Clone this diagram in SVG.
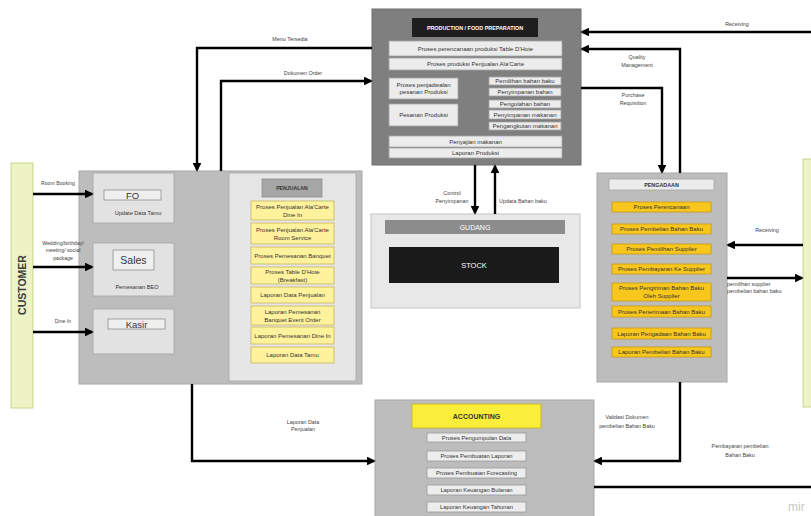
<svg xmlns="http://www.w3.org/2000/svg" width="811" height="516" viewBox="0 0 811 516">
<defs>
<marker id="ah" viewBox="0 0 10 10" refX="8" refY="5" markerWidth="3.6" markerHeight="3.6" orient="auto" markerUnits="strokeWidth"><path d="M0,0 L10,5 L0,10 z" fill="#000"/></marker>
<style>
text{font-family:"Liberation Sans",Arial,sans-serif;fill:#333;}
.t{font-size:6px;text-anchor:middle;}
.lb{font-size:5.4px;text-anchor:middle;fill:#444;}
.pbox{fill:#ececec;stroke:#a6a6a6;stroke-width:0.8;}
.ybox{fill:#fff29c;stroke:#c8b35a;stroke-width:0.8;}
.obox{fill:#f8c71e;stroke:#c89a10;stroke-width:0.8;}
.abox{fill:#ededed;stroke:#9a9a9a;stroke-width:0.8;}
.ln{fill:none;stroke:#000;stroke-width:2.4;}
.ar{fill:none;stroke:#000;stroke-width:2.4;marker-end:url(#ah);}
.cust{fill:#eef3c6;stroke:#c9d38e;stroke-width:1;}
</style>
</defs>
<rect width="811" height="516" fill="#fff"/>

<g id="customer">
<rect class="cust" x="11" y="163" width="22" height="245"/>
<text x="26" y="285" transform="rotate(-90 26 285)" style="font-size:10.5px;font-weight:bold;text-anchor:middle;fill:#3a3a3a">CUSTOMER</text>
</g>

<g id="supplier">
<rect class="cust" x="803" y="159" width="12" height="248"/>
</g>

<g id="frontoffice">
<rect x="79" y="171" width="283" height="213" fill="#bdbdbd" stroke="#a8a8a8" stroke-width="1"/>
<g id="fo">
<rect x="93" y="173" width="81" height="50" fill="#e2e2e2" stroke="#a6a6a6" stroke-width="0.8"/>
<rect x="104" y="190" width="57" height="10" fill="#efefef" stroke="#8f8f8f" stroke-width="0.8"/>
<text x="132.5" y="198.5" style="font-size:9.5px;text-anchor:middle;fill:#333">FO</text>
<text x="138" y="215" class="t" style="font-size:5.6px">Update Data Tamu</text>
</g>
<g id="sales">
<rect x="93" y="243" width="81" height="53" fill="#e2e2e2" stroke="#a6a6a6" stroke-width="0.8"/>
<rect x="113" y="250" width="41" height="20" fill="#efefef" stroke="#8f8f8f" stroke-width="0.8"/>
<text x="133.5" y="263.5" style="font-size:10.5px;text-anchor:middle;fill:#333">Sales</text>
<text x="137" y="289" class="t" style="font-size:5.6px">Pemesanan BEO</text>
</g>
<g id="kasir">
<rect x="93" y="309" width="81" height="45" fill="#e2e2e2" stroke="#a6a6a6" stroke-width="0.8"/>
<rect x="108" y="319" width="57" height="10" fill="#efefef" stroke="#8f8f8f" stroke-width="0.8"/>
<text x="136.5" y="327.5" style="font-size:9.5px;text-anchor:middle;fill:#333">Kasir</text>
</g>
<g id="penjualan">
<rect x="229" y="173" width="127" height="208" fill="#e6e6e6" stroke="#a8a8a8" stroke-width="0.8"/>
<rect x="262" y="179" width="60" height="18" fill="#a6a6a6" stroke="#8f8f8f" stroke-width="0.8"/>
<text x="292" y="190" class="t" style="font-size:5.2px;font-weight:bold">PENJUALAN</text>
<rect class="ybox" x="251" y="201" width="83" height="19"/>
<text x="292.5" y="209" class="t">Proses Penjualan Ala'Carte</text>
<text x="292.5" y="216.5" class="t">Dine In</text>
<rect class="ybox" x="251" y="223" width="83" height="21"/>
<text x="292.5" y="231.5" class="t">Proses Penjualan Ala'Carte</text>
<text x="292.5" y="239.5" class="t">Room Service</text>
<rect class="ybox" x="251" y="247" width="83" height="17"/>
<text x="292.5" y="257.5" class="t">Proses Pemesanan Banquet</text>
<rect class="ybox" x="251" y="267" width="83" height="17"/>
<text x="292.5" y="274" class="t">Proses Table D'Hote</text>
<text x="292.5" y="281.5" class="t">(Breakfast)</text>
<rect class="ybox" x="251" y="287" width="83" height="16"/>
<text x="292.5" y="297" class="t">Laporan Data Penjualan</text>
<rect class="ybox" x="251" y="306" width="83" height="19"/>
<text x="292.5" y="314" class="t">Laporan Pemesanan</text>
<text x="292.5" y="321.5" class="t">Banquet Event Order</text>
<rect class="ybox" x="251" y="327" width="83" height="17"/>
<text x="292.5" y="337.5" class="t">Laporan Pemesanan Dine In</text>
<rect class="ybox" x="251" y="347" width="83" height="16"/>
<text x="292.5" y="357" class="t">Laporan Data Tamu</text>
</g>
</g>

<g id="production">
<rect x="372" y="9" width="209" height="156" fill="#7f7f7f" stroke="#6f6f6f" stroke-width="1"/>
<rect x="412" y="18" width="126" height="19" fill="#1e1e1e"/>
<text x="475" y="29.5" class="t" style="font-size:5.4px;font-weight:bold;fill:#fff">PRODUCTION / FOOD PREPARATION</text>
<rect class="pbox" x="389" y="41" width="173" height="15"/>
<text x="475.5" y="50.5" class="t">Proses perencanaan produksi Table D'Hote</text>
<rect class="pbox" x="389" y="58" width="173" height="12"/>
<text x="475.5" y="66" class="t">Proses produksi Penjualan Ala'Carte</text>
<rect class="pbox" x="389" y="78" width="69" height="21"/>
<text x="423.5" y="86.5" class="t">Proses penjadwalan</text>
<text x="423.5" y="94" class="t">pesanan Produksi</text>
<rect class="pbox" x="389" y="104" width="69" height="22"/>
<text x="423.5" y="117" class="t">Pesanan Produksi</text>
<rect class="pbox" x="489" y="77" width="72" height="8"/>
<text x="525" y="83" class="t">Pemilihan bahan baku</text>
<rect class="pbox" x="489" y="88" width="72" height="8"/>
<text x="525" y="94" class="t">Penyimpanan bahan</text>
<rect class="pbox" x="489" y="100" width="72" height="8"/>
<text x="525" y="106" class="t">Pengolahan bahan</text>
<rect class="pbox" x="489" y="110" width="72" height="9"/>
<text x="525" y="116.5" class="t">Penyimpanan makanan</text>
<rect class="pbox" x="489" y="122" width="72" height="8"/>
<text x="525" y="128" class="t">Pengangkutan makanan</text>
<rect class="pbox" x="389" y="136" width="173" height="11"/>
<text x="475.5" y="143.5" class="t">Penyajian makanan</text>
<rect class="pbox" x="389" y="148" width="173" height="10"/>
<text x="475.5" y="155" class="t">Laporan Produksi</text>
</g>

<g id="gudang">
<rect x="371" y="214" width="209" height="94" fill="#e8e8e8" stroke="#c4c4c4" stroke-width="1"/>
<rect x="385" y="220" width="180" height="14" fill="#8c8c8c"/>
<text x="475" y="229.5" class="t" style="font-size:7px;fill:#fff">GUDANG</text>
<rect x="389" y="247" width="170" height="36" fill="#1a1a1a"/>
<text x="474" y="268" class="t" style="font-size:7.5px;fill:#fff">STOCK</text>
</g>

<g id="pengadaan">
<rect x="597" y="173" width="130" height="209" fill="#bdbdbd" stroke="#a8a8a8" stroke-width="1"/>
<rect x="609" y="179" width="105" height="11" fill="#ececec" stroke="#a6a6a6" stroke-width="0.8"/>
<text x="661.5" y="187" class="t" style="font-size:5.4px;font-weight:bold">PENGADAAN</text>
<rect class="obox" x="612" y="202" width="99" height="10"/>
<text x="661.5" y="209" class="t">Proses Perencanaan</text>
<rect class="obox" x="612" y="224" width="99" height="10"/>
<text x="661.5" y="231" class="t">Proses Pembelian Bahan Baku</text>
<rect class="obox" x="612" y="244" width="99" height="10"/>
<text x="661.5" y="251" class="t">Proses Pemilihan Supplier</text>
<rect class="obox" x="612" y="264" width="99" height="10"/>
<text x="661.5" y="271" class="t">Proses Pembayaran Ke Supplier</text>
<rect class="obox" x="612" y="283" width="99" height="18"/>
<text x="661.5" y="290" class="t">Proses Pengiriman Bahan Baku</text>
<text x="661.5" y="297.5" class="t">Oleh Supplier</text>
<rect class="obox" x="612" y="306" width="99" height="11"/>
<text x="661.5" y="313.5" class="t">Proses Penerimaan Bahan Baku</text>
<rect class="obox" x="612" y="328" width="99" height="11"/>
<text x="661.5" y="335.5" class="t">Laporan Pengadaan Bahan Baku</text>
<rect class="obox" x="612" y="347" width="99" height="10"/>
<text x="661.5" y="354" class="t">Laporan Pembelian Bahan Baku</text>
</g>

<g id="accounting">
<rect x="375" y="400" width="219" height="120" fill="#bdbdbd" stroke="#a8a8a8" stroke-width="1"/>
<rect x="412" y="404" width="129" height="24" fill="#fbee3a" stroke="#c8b830" stroke-width="1"/>
<text x="476.5" y="418.5" class="t" style="font-size:7px;font-weight:bold;fill:#333">ACCOUNTING</text>
<rect class="abox" x="427" y="433" width="99" height="9"/>
<text x="476.5" y="439.7" class="t" style="font-size:5.8px">Proses Pengumpulan Data</text>
<rect class="abox" x="427" y="451" width="99" height="10"/>
<text x="476.5" y="458.2" class="t" style="font-size:5.8px">Proses Pembuatan Laporan</text>
<rect class="abox" x="427" y="468" width="99" height="10"/>
<text x="476.5" y="475.2" class="t" style="font-size:5.8px">Proses Pembuatan Forecasting</text>
<rect class="abox" x="427" y="485" width="99" height="10"/>
<text x="476.5" y="492.2" class="t" style="font-size:5.8px">Laporan Keuangan Bulanan</text>
<rect class="abox" x="427" y="502" width="99" height="10"/>
<text x="476.5" y="509.2" class="t" style="font-size:5.8px">Laporan Keuangan Tahunan</text>
</g>

<g id="connectors">
<path class="ar" d="M33,194 H92"/>
<path class="ar" d="M33,267 H92"/>
<path class="ar" d="M33,332 H92"/>
<path class="ar" d="M372,48 H197 V170"/>
<path class="ar" d="M221,171 V81 H371"/>
<path class="ar" d="M475,165 V213"/>
<path class="ar" d="M495,214 V166"/>
<path class="ar" d="M811,32 H582"/>
<path class="ar" d="M680,173 V49 H582"/>
<path class="ar" d="M581,88 H662 V172"/>
<path class="ar" d="M803,245 H728"/>
<path class="ar" d="M727,278 H802"/>
<path class="ar" d="M192,384 V461 H374"/>
<path class="ar" d="M680,382 V461 H595"/>
<path class="ln" d="M594,487 H811"/>
<text x="58" y="185" class="lb" style="font-size:5.2px">Room Booking</text>
<text x="63" y="245" class="lb" style="font-size:5.2px">Wedding/birthday/</text>
<text x="63" y="252" class="lb" style="font-size:5.2px">meeting/ social</text>
<text x="63" y="260" class="lb" style="font-size:5.2px">package</text>
<text x="63" y="323" class="lb" style="font-size:5.2px">Dine In</text>
<text x="290" y="41" class="lb">Menu Tersedia</text>
<text x="303" y="75" class="lb">Dokumen Order</text>
<text x="452" y="195" class="lb">Control</text>
<text x="452" y="203" class="lb">Penyimpanan</text>
<text x="499" y="203" class="lb" style="text-anchor:start">Updata Bahan baku</text>
<text x="737" y="26" class="lb">Receiving</text>
<text x="637" y="59" class="lb">Quality</text>
<text x="637" y="67" class="lb">Management</text>
<text x="633" y="97" class="lb">Purchase</text>
<text x="633" y="105" class="lb">Requisition</text>
<text x="767" y="232" class="lb">Receiving</text>
<text x="727" y="286" class="lb" style="text-anchor:start">pemilihan supplier</text>
<text x="727" y="293" class="lb" style="text-anchor:start">pembelian bahan baku</text>
<text x="303" y="424" class="lb">Laporan Data</text>
<text x="303" y="431" class="lb">Penjualan</text>
<text x="627" y="419" class="lb">Validasi Dokumen</text>
<text x="627" y="428" class="lb">pembelian Bahan Baku</text>
<text x="740" y="448" class="lb">Pembayaran  pembelian</text>
<text x="740" y="457" class="lb">Bahan Baku</text>
</g>
<text x="788" y="511" style="font-size:12px;fill:#c8c8c8;text-anchor:start">mir</text>
</svg>
